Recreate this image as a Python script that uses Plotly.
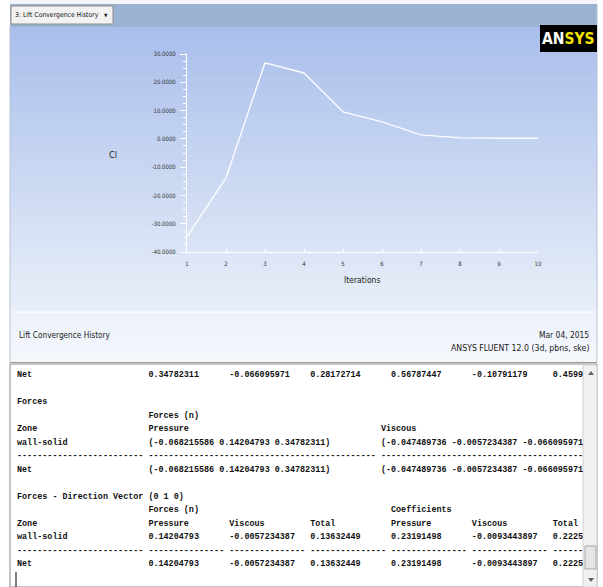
import plotly.graph_objects as go

# ---- lift coefficient history ----
iterations = [1, 2, 3, 4, 5, 6, 7, 8, 9, 10]
cl_values = [-34.6, -13.8, 26.9, 23.3, 9.5, 6.0, 1.4, 0.35, 0.2, 0.22]
y_tick_vals = [-40, -30, -20, -10, 0, 10, 20, 30]
y_tick_text = ["-40.0000", "-30.0000", "-20.0000", "-10.0000",
               "0.0000", "10.0000", "20.0000", "30.0000"]
x_tick_vals = [1, 2, 3, 4, 5, 6, 7, 8, 9, 10]

# ---- console report text ----
moment_row = ["0.34782311", "-0.066095971", "0.28172714",
              "0.56787447", "-0.10791179", "0.45996268"]
force_pressure_vec = "(-0.068215586 0.14204793 0.34782311)"
force_viscous_vec = "(-0.047489736 -0.0057234387 -0.066095971)"
dir_headers = ["Pressure", "Viscous", "Total", "Pressure", "Viscous", "Total"]
dir_values = ["0.14204793", "-0.0057234387", "0.13632449",
              "0.23191498", "-0.0093443897", "0.22257059"]

W, H = 603, 587
L, R, T, B = 187, 65, 54, 335
PW, PH = W - L - R, H - T - B

NARROW = "Liberation Sans Narrow, DejaVu Sans Condensed, Liberation Sans, Arial"
MONO = "Liberation Mono, DejaVu Sans Mono, monospace"


def X(p):
    return (p - L) / PW


def Y(p):
    return (H - B - p) / PH


def rect(x0, y0, x1, y1, fill, line=None, lw=0, layer="below"):
    return dict(type="rect", xref="paper", yref="paper",
                x0=X(x0), x1=X(x1), y0=Y(y1), y1=Y(y0),
                fillcolor=fill, layer=layer,
                line=dict(color=line or fill, width=lw))


def hline(x0, x1, y, color, lw=1):
    return dict(type="line", xref="paper", yref="paper",
                x0=X(x0), x1=X(x1), y0=Y(y), y1=Y(y),
                line=dict(color=color, width=lw), layer="below")


def vline(x, y0, y1, color, lw=1):
    return dict(type="line", xref="paper", yref="paper",
                x0=X(x), x1=X(x), y0=Y(y0), y1=Y(y1),
                line=dict(color=color, width=lw), layer="below")


def tri(pts, color):
    d = "M " + " L ".join(f"{X(a)},{Y(b)}" for a, b in pts) + " Z"
    return dict(type="path", xref="paper", yref="paper", path=d,
                fillcolor=color, line=dict(color=color, width=0))


def text(x, y, s, size, color="#222222", family=NARROW, xanchor="left"):
    return dict(x=X(x), y=Y(y), xref="paper", yref="paper", text=s,
                showarrow=False, xanchor=xanchor, yanchor="middle",
                borderpad=0, font=dict(size=size, color=color, family=family))


def mix(c0, c1, f):
    return "rgb({},{},{})".format(*[round(a + (b - a) * f) for a, b in zip(c0, c1)])


shapes = []
# graphics window frame and title strip
shapes.append(rect(10, 0, 597, 362, "#f3f5fb"))
shapes.append(rect(10, 4, 597, 27, "#9bb3d3"))
# blue gradient behind the plot
top_c, bot_c = (168, 190, 235), (233, 239, 249)
n = 60
g0, g1 = 27, 312
for i in range(n):
    ya = g0 + (g1 - g0) * i / n
    yb = g0 + (g1 - g0) * (i + 1) / n + 0.6
    shapes.append(rect(10, ya, 597, yb, mix(top_c, bot_c, (i + 0.5) / n)))
# lower caption panel
for i in range(12):
    ya = 312 + 50 * i / 12
    yb = 312 + 50 * (i + 1) / 12 + 0.6
    shapes.append(rect(10, ya, 597, yb, mix((236, 241, 250), (245, 247, 252), (i + 0.5) / 12)))
shapes.append(hline(10, 597, 312, "#ffffff", 1))
shapes.append(vline(10, 27, 362, "#b8c2d4", 1))
shapes.append(vline(597, 4, 362, "#b8c2d4", 1))
shapes.append(hline(10, 597, 362.5, "#9a9a9a", 1))

# selector box
shapes.append(rect(11, 6, 113, 24, "#f2f2f2", "#8c8c8c", 1))
# logo plate
shapes.append(rect(540, 25, 597, 52, "#000000"))

# console area
shapes.append(rect(10, 364, 597, 587, "#ffffff", "#8a8a8a", 1))
shapes.append(rect(583, 365, 597, 587, "#f0f0f0", "#d2d2d2", 1))
shapes.append(rect(585, 546, 596, 569, "#e4e4e4", "#a8a8a8", 1))
shapes.append(tri([(588, 375), (594, 375), (591, 371)], "#606060"))
shapes.append(tri([(588, 578), (594, 578), (591, 582)], "#606060"))
shapes.append(vline(16, 572, 587, "#000000", 1))

annotations = []
annotations.append(text(14, 15, "3: Lift Convergence History", 6.8, "#111111"))
annotations.append(text(106, 15, "▼", 5, "#222222", xanchor="center"))
annotations.append(text(568.5, 39,
                        "<b><span style='color:#ffffff'>AN</span>"
                        "<span style='color:#f2e200'>SYS</span></b>",
                        15.5, "#ffffff", xanchor="center"))
annotations.append(text(113, 155, "Cl", 9, "#222222", xanchor="center"))
annotations.append(text(362, 280, "Iterations", 8.5, "#222222", xanchor="center"))
annotations.append(text(18, 335, "Lift Convergence History", 8.2, "#222222"))
annotations.append(text(590, 335, "Mar 04, 2015", 8.4, "#222222", xanchor="right"))
annotations.append(text(590, 348, "ANSYS FLUENT 12.0 (3d, pbns, ske)", 8.7,
                        "#222222", xanchor="right"))


def row(cells, widths):
    s = ""
    for c, w in zip(cells, widths):
        s += c.ljust(w)
    return s


VIS = 112
lines = [
    row(["Net"] + moment_row, [26] + [16] * 6),
    "",
    "Forces",
    row(["", "Forces (n)"], [26, 16]),
    row(["Zone", "Pressure", "Viscous"], [26, 46, 46]),
    row(["wall-solid", force_pressure_vec, force_viscous_vec], [26, 46, 46]),
    "-" * 25 + " " + "-" * 45 + " " + "-" * 45,
    row(["Net", force_pressure_vec, force_viscous_vec], [26, 46, 46]),
    "",
    "Forces - Direction Vector (0 1 0)",
    row(["", "Forces (n)", "", "", "Coefficients"], [26, 16, 16, 16, 16]),
    row(["Zone"] + dir_headers, [26] + [16] * 6),
    row(["wall-solid"] + dir_values, [26] + [16] * 6),
    "-" * 25 + " " + ("-" * 15 + " ") * 6,
    row(["Net"] + dir_values, [26] + [16] * 6),
]
for k, s in enumerate(lines):
    s = s[:VIS].rstrip()
    if not s:
        continue
    annotations.append(text(16, 375 + 13.5 * k,
                            "<b>" + s.replace(" ", "\u00a0") + "</b>",
                            8.43, "#111111", MONO))

fig = go.Figure(go.Scatter(
    x=iterations, y=cl_values, mode="lines",
    line=dict(color="rgba(255,255,255,0.95)", width=1.4),
    hoverinfo="skip", showlegend=False))

fig.update_layout(
    width=W, height=H,
    margin=dict(l=L, r=R, t=T, b=B, pad=0),
    paper_bgcolor="#ffffff",
    plot_bgcolor="rgba(0,0,0,0)",
    shapes=shapes,
    annotations=annotations,
    showlegend=False,
    xaxis=dict(range=[1, 10], tickvals=x_tick_vals, showgrid=False,
               zeroline=False, showline=True, linecolor="#ffffff", linewidth=1,
               ticks="inside", ticklen=3, tickcolor="#ffffff", tickwidth=1,
               tickfont=dict(size=6, color="#333333", family=NARROW),
               ticklabelstandoff=6, automargin=False, fixedrange=True),
    yaxis=dict(range=[-40, 30], tickvals=y_tick_vals, ticktext=y_tick_text,
               showgrid=False, zeroline=False, showline=True,
               linecolor="#ffffff", linewidth=1,
               ticks="outside", ticklen=6, tickcolor="#ffffff", tickwidth=1,
               minor=dict(dtick=2.5, ticks="outside", ticklen=3,
                          tickcolor="#ffffff", showgrid=False),
               tickfont=dict(size=6, color="#333333", family=NARROW),
               ticklabelstandoff=3, automargin=False, fixedrange=True),
)

fig.write_html("out.html")
